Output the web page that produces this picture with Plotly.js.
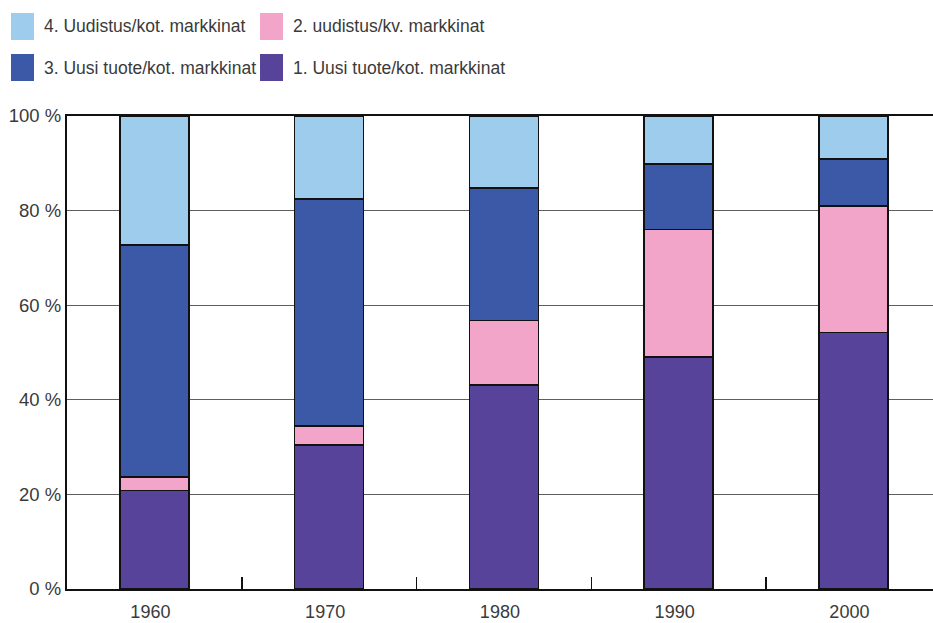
<!DOCTYPE html>
<html>
<head>
<meta charset="utf-8">
<script src="https://cdn.plot.ly/plotly-3.0.1.min.js"></script>
<style>
  html, body { margin: 0; padding: 0; background: #ffffff; }
  #chart { width: 933px; height: 623px; }
</style>
</head>
<body>
<div id="chart"></div>
<script>
// Decades on the category axis
const years = ['1960', '1970', '1980', '1990', '2000'];

// Share of each type (%), bottom segment first
const uusiKot = [20.8, 30.4, 43.1, 49.0, 54.2];      // 1. Uusi tuote/kot. markkinat
const uudistusKv = [2.9, 4.1, 13.7, 27.0, 26.8];     // 2. uudistus/kv. markkinat
const uusiKot3 = [49.0, 47.9, 28.0, 13.9, 9.9];      // 3. Uusi tuote/kot. markkinat
const uudistusKot = [27.3, 17.6, 15.2, 10.1, 9.1];   // 4. Uudistus/kot. markkinat

// Percentage axis ticks
const yTickVals = [0, 20, 40, 60, 80, 100];
const yTickText = ['0 %', '20 %', '40 %', '60 %', '80 %', '100 %'];

const seriesNames = [
  '1. Uusi tuote/kot. markkinat',
  '2. uudistus/kv. markkinat',
  '3. Uusi tuote/kot. markkinat',
  '4. Uudistus/kot. markkinat'
];
const seriesValues = [uusiKot, uudistusKv, uusiKot3, uudistusKot];
const seriesColors = ['#58439a', '#f3a5c9', '#3b59a6', '#9dccec'];

const FONT = 'Liberation Sans, Arial, sans-serif';

const traces = seriesValues.map((vals, i) => ({
  type: 'bar',
  name: seriesNames[i],
  x: years,
  y: vals,
  width: 0.395,
  marker: { color: seriesColors[i], line: { color: '#111111', width: 1.6 } },
  showlegend: false,
  hoverinfo: 'x+y+name'
}));

// Plot area in pixels
const W = 933, H = 623;
const M = { l: 67, r: 0, t: 116, b: 34 };
const plotW = W - M.l - M.r, plotH = H - M.t - M.b;
const px2x = px => (px - M.l) / plotW;
const px2y = py => (H - M.b - py) / plotH;

// Key above the plot: two columns, two rows
const keyOrder = [3, 1, 2, 0];           // series index for each key slot
const keyCols = [11, 260];               // swatch left edge
const keyRows = [13, 54];                // swatch top edge
const swW = 23, swH = 27;
const shapes = [], annotations = [];
keyOrder.forEach((s, k) => {
  const cx = keyCols[k % 2], ry = keyRows[Math.floor(k / 2)];
  shapes.push({
    type: 'rect', xref: 'paper', yref: 'paper',
    x0: px2x(cx), x1: px2x(cx + swW),
    y0: px2y(ry + swH), y1: px2y(ry),
    fillcolor: seriesColors[s], line: { width: 0 }
  });
  annotations.push({
    xref: 'paper', yref: 'paper',
    x: px2x(cx + 31), y: px2y(ry + swH / 2),
    xanchor: 'left', yanchor: 'middle',
    text: seriesNames[s], showarrow: false,
    font: { family: FONT, size: 17.5, color: '#3a3a3a' }
  });
});

const layout = {
  width: W, height: H,
  margin: M,
  barmode: 'stack',
  paper_bgcolor: '#ffffff',
  plot_bgcolor: '#ffffff',
  font: { family: FONT, size: 18, color: '#3a3a3a' },
  xaxis: {
    type: 'category',
    range: [-0.5, -0.5 + plotW / 174.75],
    tickson: 'boundaries',
    ticks: 'inside', ticklen: 12, tickwidth: 1.5, tickcolor: '#111111',
    showgrid: false,
    showline: true, linecolor: '#111111', linewidth: 2.2, mirror: true,
    ticklabelstandoff: 5,
    ticklabelshift: -4,
    tickfont: { family: FONT, size: 18, color: '#3a3a3a' }
  },
  yaxis: {
    range: [0, 100],
    tickmode: 'array',
    tickvals: yTickVals,
    ticktext: yTickText,
    showgrid: true, gridcolor: '#5e5e5e', gridwidth: 1,
    zeroline: false,
    showline: true, linecolor: '#111111', linewidth: 2.2,
    ticks: '',
    tickfont: { family: FONT, size: 18.5, color: '#3a3a3a' }
  },
  shapes: shapes,
  annotations: annotations,
  showlegend: false
};

Plotly.newPlot('chart', traces, layout, { displayModeBar: false, staticPlot: true });
</script>
</body>
</html>
